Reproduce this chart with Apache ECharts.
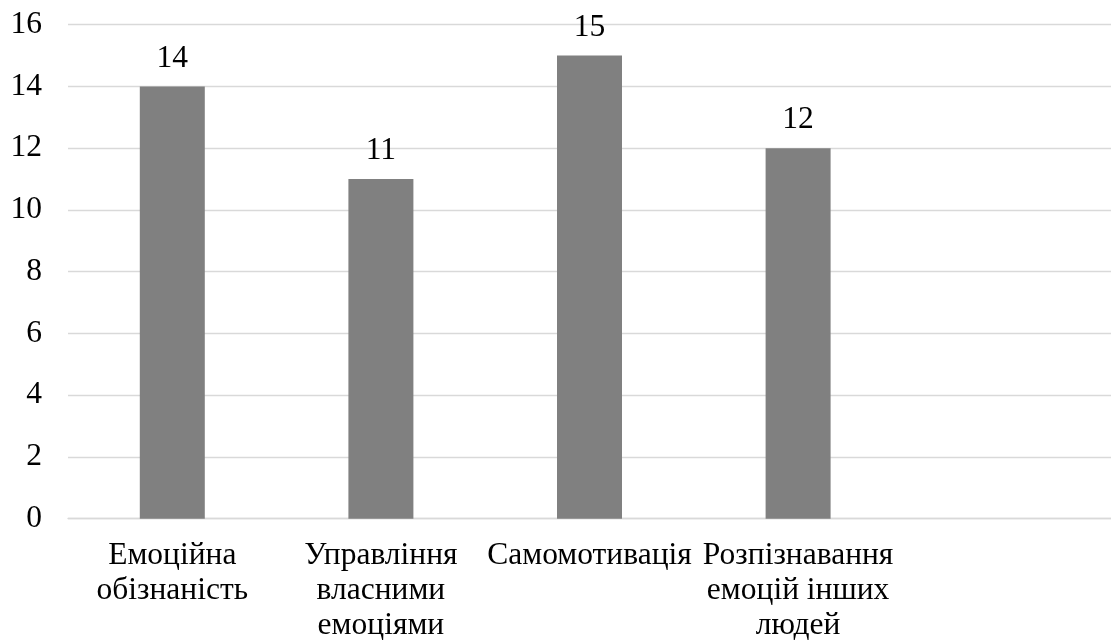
<!DOCTYPE html>
<html>
<head>
<meta charset="utf-8">
<script src="https://cdn.jsdelivr.net/npm/echarts@6/dist/echarts.min.js"></script>
<style>
  html, body { margin: 0; padding: 0; background: #fff; }
  #chart { width: 1111px; height: 644px; }
</style>
</head>
<body>
<div id="chart"></div>
<script>
// Emotional-intelligence components and their scores
const categories = [
  'Емоційна\nобізнаність',
  'Управління\nвласними\nемоціями',
  'Самомотивація',
  'Розпізнавання\nемоцій інших\nлюдей',
  ''
];
const values = [14, 11, 15, 12, null];
const yTicks = { min: 0, max: 16, interval: 2 };

const FONT = '"Liberation Serif", "Times New Roman", serif';

const chart = echarts.init(document.getElementById('chart'));
chart.setOption({
  animation: false,
  grid: { left: 68, right: 0, top: 24.7, bottom: 125.3, containLabel: false },
  xAxis: {
    type: 'category',
    data: categories,
    axisLine: { show: true, lineStyle: { color: '#d9d9d9', width: 1.3 } },
    axisTick: { show: false },
    axisLabel: {
      interval: 0,
      color: '#000',
      fontFamily: FONT,
      fontSize: 31.5,
      lineHeight: 35,
      margin: 20,
      align: 'center'
    }
  },
  yAxis: {
    type: 'value',
    min: yTicks.min,
    max: yTicks.max,
    interval: yTicks.interval,
    axisLine: { show: false },
    axisTick: { show: false },
    splitLine: { lineStyle: { color: '#d9d9d9', width: 1.3 } },
    axisLabel: {
      color: '#000',
      fontFamily: FONT,
      fontSize: 31.5,
      margin: 26
    }
  },
  series: [{
    type: 'bar',
    data: values,
    barWidth: 65,
    itemStyle: { color: '#808080' },
    label: {
      show: true,
      position: 'top',
      distance: 12,
      color: '#000',
      fontFamily: FONT,
      fontSize: 31.5
    }
  }]
});
</script>
</body>
</html>
